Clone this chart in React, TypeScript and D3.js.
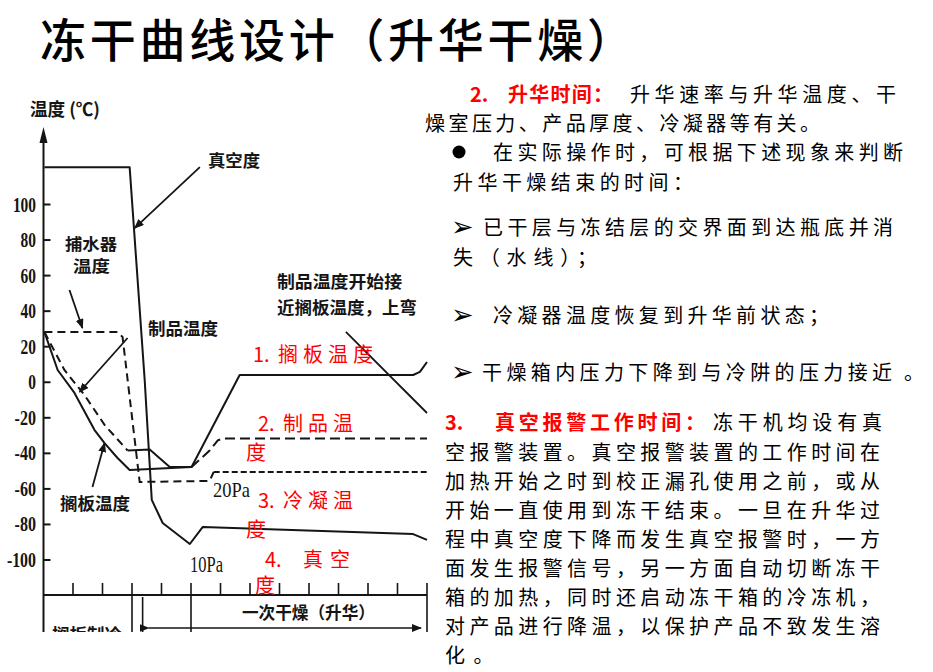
import React from 'react';
import * as d3 from 'd3';

const W = 933;
const H = 672;

// time axis (unlabelled ticks in the scan) and temperature ticks
const timeTicks = d3.range(1, 14);
const tempTicks = [100, 80, 60, 40, 20, 0, -20, -40, -60, -80, -100];

// curves: [time, temperature]
const shelfTemp: [number, number][] = [
  [0.03, 28.3], [0.48, 6.9], [1.05, -6.0], [1.73, -26.9], [2.07, -34.2],
  [2.51, -42.6], [2.92, -49.4], [5.02, -47.7], [6.65, 4.1], [12.53, 4.1],
  [12.76, 5.8], [13.0, 11.4],
];
const productTemp: [number, number][] = [
  [0.03, 28.3], [0.71, 6.9], [1.39, -7.2], [2.07, -24.0], [2.85, -38.4],
  [3.6, -37.8], [4.28, -47.7], [5.02, -47.7], [5.64, -38.3], [5.91, -32.7],
  [6.1, -31.6], [13.0, -31.6],
];
const productSolid = [4, 7]; // index range drawn solid
const condenserTemp: [number, number][] = [
  [0.03, 28.3], [2.51, 28.3], [2.68, 25.5], [3.26, -56.1], [5.63, -55.5],
  [5.77, -50.5], [13.0, -50.5],
];
// vacuum is drawn on the same frame as the scan (no own axis)
const vacuum: [number, number][] = [
  [0.03, 121], [2.92, 121], [3.43, 1.3], [3.67, -66.2], [4.04, -79.2],
  [4.96, -91], [5.4, -81.4], [12.53, -85.4], [13.0, -88.7],
];

// annotation arrows: [from, to]
const arrows: [number, number][][] = [
  [[5.3, 121], [3.09, 86.7]],
  [[0.88, 51.9], [1.32, 30.5]],
  [[2.85, 24.9], [1.22, -5.5]],
  [[1.66, -58.9], [2.07, -34.2]],
];
const leader: [number, number][] = [[10.25, 28.3], [13.0, -17.3]];

const section2 = [
  '燥室压力、产品厚度、冷凝器等有关。',
  '在实际操作时，可根据下述现象来判断',
  '升华干燥结束的时间：',
  '已干层与冻结层的交界面到达瓶底并消',
  '失（水线）；',
  '冷凝器温度恢复到升华前状态；',
  '干燥箱内压力下降到与冷阱的压力接近',
];
const section3 = [
  '空报警装置。真空报警装置的工作时间在',
  '加热开始之时到校正漏孔使用之前，或从',
  '开始一直使用到冻干结束。一旦在升华过',
  '程中真空度下降而发生真空报警时，一方',
  '面发生报警信号，另一方面自动切断冻干',
  '箱的加热，同时还启动冻干箱的冷冻机，',
  '对产品进行降温，以保护产品不致发生溶',
  '化。',
];

const cjk = '"Noto Sans CJK SC", sans-serif';
const serif = '"Liberation Serif", serif';
const ink = '#151515';
const red = '#ff0000';

export default function App() {
  const x = d3.scaleLinear().domain([0, 13]).range([43.5, 427]);
  const y = d3.scaleLinear().domain([-100, 100]).range([560, 204.5]);
  const line = d3.line<[number, number]>().x(d => x(d[0])).y(d => y(d[1]));

  const baseY = 595;
  const bottom = 632;
  const axisTop = 127;

  const prodA = productTemp.slice(0, productSolid[0] + 1);
  const prodS = productTemp.slice(productSolid[0], productSolid[1] + 1);
  const prodB = productTemp.slice(productSolid[1]);

  const chartLabel = { fontFamily: cjk, fontSize: 17, fontWeight: 700, fill: ink } as const;
  const body = { fontFamily: cjk, fontSize: 20, fill: '#000' } as const;
  const redLbl = { fontFamily: cjk, fontSize: 20, fill: red } as const;

  return (
    <svg width={W} height={H} style={{ position: 'absolute', left: 0, top: 0, background: '#fff' }}>
      <defs>
        <marker id="ah" viewBox="0 0 10 8" refX="9" refY="4" markerWidth="10" markerHeight="8"
          markerUnits="userSpaceOnUse" orient="auto">
          <path d="M0,0 L10,4 L0,8 Z" fill={ink} />
        </marker>
        <clipPath id="chartClip">
          <rect x={0} y={80} width={440} height={bottom - 80} />
        </clipPath>
      </defs>

      <text x={40} y={57} fontFamily={cjk} fontSize={46} fontWeight={500} fill="#000" textLength={593} lengthAdjust="spacing">
        冻干曲线设计（升华干燥）
      </text>

      <g clipPath="url(#chartClip)">
        {/* y axis */}
        <line x1={x(0)} x2={x(0)} y1={axisTop + 10} y2={bottom} stroke={ink} strokeWidth={2} />
        <path d={`M${x(0)},${axisTop} L${x(0) - 4},${axisTop + 16} L${x(0) + 4},${axisTop + 16} Z`} fill={ink} />
        <text x={30} y={116} {...chartLabel} fontSize={18} textLength={70} lengthAdjust="spacingAndGlyphs">温度 (℃)</text>
        {tempTicks.map(v => {
          const s = String(v);
          const wdt = (s.replace('-', '').length) * 7.7 + (v < 0 ? 6 : 0);
          return (
            <g key={v}>
              <line x1={x(0)} x2={x(0) + 7} y1={y(v)} y2={y(v)} stroke={ink} strokeWidth={2} />
              <text x={36} y={y(v) + 7} textAnchor="end" fontFamily={serif} fontSize={21} fontWeight={700}
                fill={ink} textLength={wdt} lengthAdjust="spacingAndGlyphs">{s}</text>
            </g>
          );
        })}

        {/* time axis and phase band */}
        <line x1={x(0)} x2={x(13)} y1={baseY} y2={baseY} stroke={ink} strokeWidth={2} />
        {timeTicks.map(t => (
          <line key={t} x1={x(t)} x2={x(t)} y1={baseY - 12}
            y2={t === 3 || t === 5 || t === 13 ? bottom : baseY} stroke={ink} strokeWidth={1.6} />
        ))}
        <line x1={x(3.36)} x2={x(3.36)} y1={baseY + 2} y2={bottom} stroke={ink} strokeWidth={1.6} />
        <line x1={x(3.36) + 6} x2={x(13) - 6} y1={628} y2={628} stroke={ink} strokeWidth={1.6}
          markerEnd="url(#ah)" markerStart="url(#ah)" />
        <text x={242} y={619} {...chartLabel} textLength={133} lengthAdjust="spacingAndGlyphs">一次干燥（升华）</text>
        <text x={52} y={641} {...chartLabel} textLength={70} lengthAdjust="spacingAndGlyphs">搁板制冷</text>

        {/* curves */}
        <path d={line(vacuum) ?? ''} fill="none" stroke={ink} strokeWidth={2} strokeLinejoin="round" />
        <path d={line(shelfTemp) ?? ''} fill="none" stroke={ink} strokeWidth={2} strokeLinejoin="round" />
        <path d={line(prodA) ?? ''} fill="none" stroke={ink} strokeWidth={2} strokeDasharray="8 5" />
        <path d={line(prodS) ?? ''} fill="none" stroke={ink} strokeWidth={2} />
        <path d={line(prodB) ?? ''} fill="none" stroke={ink} strokeWidth={2} strokeDasharray="10 5" />
        <path d={line(condenserTemp.slice(0, 6)) ?? ''} fill="none" stroke={ink} strokeWidth={2} strokeDasharray="8 5" />
        <path d={line(condenserTemp.slice(5)) ?? ''} fill="none" stroke={ink} strokeWidth={2} strokeDasharray="6 3" />

        {/* annotations */}
        {arrows.map((a, i) => (
          <path key={i} d={line(a) ?? ''} stroke={ink} strokeWidth={1.8} fill="none" markerEnd="url(#ah)" />
        ))}
        <path d={line(leader) ?? ''} stroke={ink} strokeWidth={1.8} fill="none" />

        <text x={208} y={167} {...chartLabel} textLength={52} lengthAdjust="spacingAndGlyphs">真空度</text>
        <text x={65} y={250} {...chartLabel} fontSize={16} textLength={52} lengthAdjust="spacingAndGlyphs">捕水器</text>
        <text x={73} y={272} {...chartLabel} fontSize={16} textLength={37} lengthAdjust="spacingAndGlyphs">温度</text>
        <text x={148} y={335} {...chartLabel} textLength={70} lengthAdjust="spacingAndGlyphs">制品温度</text>
        <text x={60} y={510} {...chartLabel} textLength={70} lengthAdjust="spacingAndGlyphs">搁板温度</text>
        <text x={277} y={288} {...chartLabel} textLength={125} lengthAdjust="spacingAndGlyphs">制品温度开始接</text>
        <text x={277} y={314} {...chartLabel} textLength={140} lengthAdjust="spacingAndGlyphs">近搁板温度，上弯</text>
        <text x={190} y={572} fontFamily={serif} fontSize={23} fill={ink} textLength={33} lengthAdjust="spacingAndGlyphs">10Pa</text>
        <text x={213} y={497} fontFamily={serif} fontSize={22} fill={ink} textLength={37} lengthAdjust="spacingAndGlyphs">20Pa</text>
      </g>

      {/* red overlay labels */}
      <text x={253} y={362} {...redLbl}>1.</text>
      <text x={278} y={362} {...redLbl} textLength={95} lengthAdjust="spacing">搁板温度</text>
      <text x={258} y={431} {...redLbl}>2.</text>
      <text x={283} y={431} {...redLbl} textLength={70} lengthAdjust="spacing">制品温</text>
      <text x={246} y={460} {...redLbl}>度</text>
      <text x={258} y={508} {...redLbl}>3.</text>
      <text x={283} y={508} {...redLbl} textLength={70} lengthAdjust="spacing">冷凝温</text>
      <text x={246} y={537} {...redLbl}>度</text>
      <text x={265} y={567} {...redLbl}>4.</text>
      <text x={303} y={567} {...redLbl} textLength={47} lengthAdjust="spacing">真空</text>
      <text x={255} y={593} {...redLbl}>度</text>

      {/* section 2 */}
      <text x={470} y={102} fontFamily={cjk} fontSize={20} fontWeight={700} fill={red}>2.</text>
      <text x={508} y={102} fontFamily={cjk} fontSize={20} fontWeight={700} fill={red} textLength={105} lengthAdjust="spacing">升华时间：</text>
      <text x={630} y={102} {...body} textLength={266} lengthAdjust="spacing">升华速率与升华温度、干</text>
      <text x={425} y={131} {...body} textLength={395} lengthAdjust="spacing">{section2[0]}</text>
      <circle cx={459} cy={152} r={6.5} fill="#000" />
      <text x={493} y={160} {...body} textLength={410} lengthAdjust="spacing">{section2[1]}</text>
      <text x={453} y={190} {...body} textLength={240} lengthAdjust="spacing">{section2[2]}</text>
      {[227, 315, 372].map(cy => (
        <text key={cy} x={451} y={cy + 9} fontFamily='"DejaVu Sans", sans-serif' fontSize={27} fill="#000">➢</text>
      ))}
      <text x={483} y={235} {...body} textLength={410} lengthAdjust="spacing">{section2[3]}</text>
      <text x={453} y={265} {...body} textLength={144} lengthAdjust="spacing">{section2[4]}</text>
      <text x={493} y={323} {...body} textLength={336} lengthAdjust="spacing">{section2[5]}</text>
      <text x={482} y={380} {...body} textLength={410} lengthAdjust="spacing">{section2[6]}</text>
      <text x={904} y={380} {...body}>。</text>

      {/* section 3 */}
      <text x={445} y={430} fontFamily={cjk} fontSize={20} fontWeight={700} fill={red}>3.</text>
      <text x={495} y={430} fontFamily={cjk} fontSize={20} fontWeight={700} fill={red} textLength={210} lengthAdjust="spacing">真空报警工作时间：</text>
      <text x={713} y={430} {...body} textLength={169} lengthAdjust="spacing">冻干机均设有真</text>
      {section3.map((s, i) => (
        <text key={i} x={445} y={460 + i * 29} {...body}
          textLength={s.length === 18 ? 435 : s.length * 24.2} lengthAdjust="spacing">{s}</text>
      ))}
    </svg>
  );
}
